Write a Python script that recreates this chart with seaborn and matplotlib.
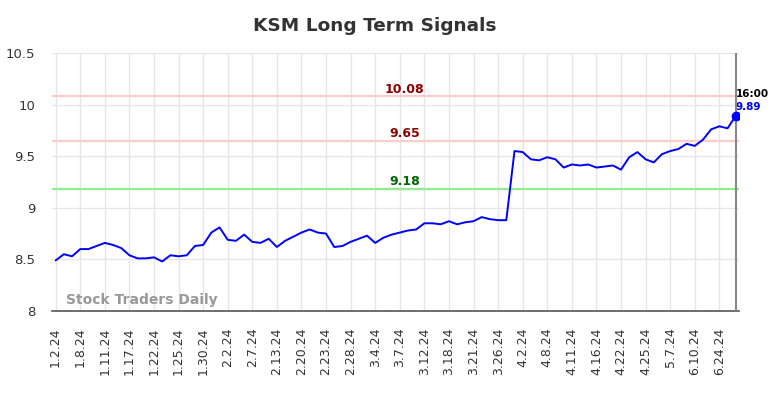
import matplotlib
matplotlib.use("Agg")
import matplotlib.pyplot as plt
import seaborn as sns
import numpy as np
import pandas as pd

prices = [8.49, 8.55, 8.53, 8.60, 8.60, 8.63, 8.66, 8.64, 8.61, 8.54,
          8.51, 8.51, 8.52, 8.48, 8.54, 8.53, 8.54, 8.63, 8.64, 8.76,
          8.81, 8.69, 8.68, 8.74, 8.67, 8.66, 8.70, 8.62, 8.68, 8.72,
          8.76, 8.79, 8.76, 8.75, 8.62, 8.63, 8.67, 8.70, 8.73, 8.66,
          8.71, 8.74, 8.76, 8.78, 8.79, 8.85, 8.85, 8.84, 8.87, 8.84,
          8.86, 8.87, 8.91, 8.89, 8.88, 8.88, 9.55, 9.54, 9.47, 9.46,
          9.49, 9.47, 9.39, 9.42, 9.41, 9.42, 9.39, 9.40, 9.41, 9.37,
          9.49, 9.54, 9.47, 9.44, 9.52, 9.55, 9.57, 9.62, 9.60, 9.66,
          9.76, 9.79, 9.77, 9.89]

tick_labels = ["1.2.24", "1.8.24", "1.11.24", "1.17.24", "1.22.24", "1.25.24",
               "1.30.24", "2.2.24", "2.7.24", "2.13.24", "2.20.24", "2.23.24",
               "2.28.24", "3.4.24", "3.7.24", "3.12.24", "3.18.24", "3.21.24",
               "3.26.24", "4.2.24", "4.8.24", "4.11.24", "4.16.24", "4.22.24",
               "4.25.24", "5.7.24", "6.10.24", "6.24.24"]

resistance_levels = [10.08, 9.65]
support_levels = [9.18]
last_time = "16:00"
y_ticks = [8, 8.5, 9, 9.5, 10, 10.5]

df = pd.DataFrame({"idx": np.arange(len(prices)), "price": prices})

sns.set_style("whitegrid")
fig = plt.figure(figsize=(7.84, 3.98), dpi=100)
ax = fig.add_axes([0.0663, 0.2186, 0.8763, 0.6482])

sns.lineplot(data=df, x="idx", y="price", ax=ax, color="#0000ff", linewidth=1.4)

for lv in resistance_levels:
    ax.axhline(lv, color="#ffcccc", linewidth=1.6, zorder=1)
    ax.text(42.6, lv + 0.008, f"{lv:.2f}", color="#8b0000", fontsize=9,
            fontweight="bold", ha="center", va="bottom")
for lv in support_levels:
    ax.axhline(lv, color="#90ee90", linewidth=1.6, zorder=1)
    ax.text(42.6, lv + 0.008, f"{lv:.2f}", color="#006400", fontsize=9,
            fontweight="bold", ha="center", va="bottom")

last_i = len(prices) - 1
ax.scatter([last_i], [prices[-1]], color="#0000ff", s=36, zorder=5)
ax.axvline(last_i, color="#888888", linewidth=1.5, zorder=4)
ax.text(last_i, prices[-1] + 0.16, last_time, color="black", fontsize=7.5,
        fontweight="bold", ha="left", va="bottom")
ax.text(last_i, prices[-1] + 0.04, f"{prices[-1]:.2f}", color="#0000ff", fontsize=7.5,
        fontweight="bold", ha="left", va="bottom")

ax.set_xlim(-0.45, 83.4)
ax.set_ylim(8, 10.5)
ax.set_yticks(y_ticks)
ax.set_yticklabels([f"{v:g}" for v in y_ticks], fontsize=9.5, color="#333333")
ax.set_xticks(np.arange(0, len(tick_labels) * 3, 3))
ax.set_xticklabels(tick_labels, rotation=90, fontsize=9, color="#333333")
ax.tick_params(axis="x", pad=12, length=0)
ax.tick_params(axis="y", pad=12, length=0)
ax.set_xlabel("")
ax.set_ylabel("")
ax.grid(True, color="#e6e6e6", linewidth=1)

for side in ["top", "left", "right"]:
    ax.spines[side].set_visible(False)
ax.spines["bottom"].set_color("#555555")
ax.spines["bottom"].set_linewidth(1.2)

ax.text(1.3, 8.04, "Stock Traders Daily", color="#999999", fontsize=10,
        fontweight="bold", ha="left", va="bottom")

fig.suptitle("KSM Long Term Signals", x=0.478, y=0.935, fontsize=13.3,
             fontweight="bold", color="#333333", va="center")

fig.savefig("out.png", dpi=100)
